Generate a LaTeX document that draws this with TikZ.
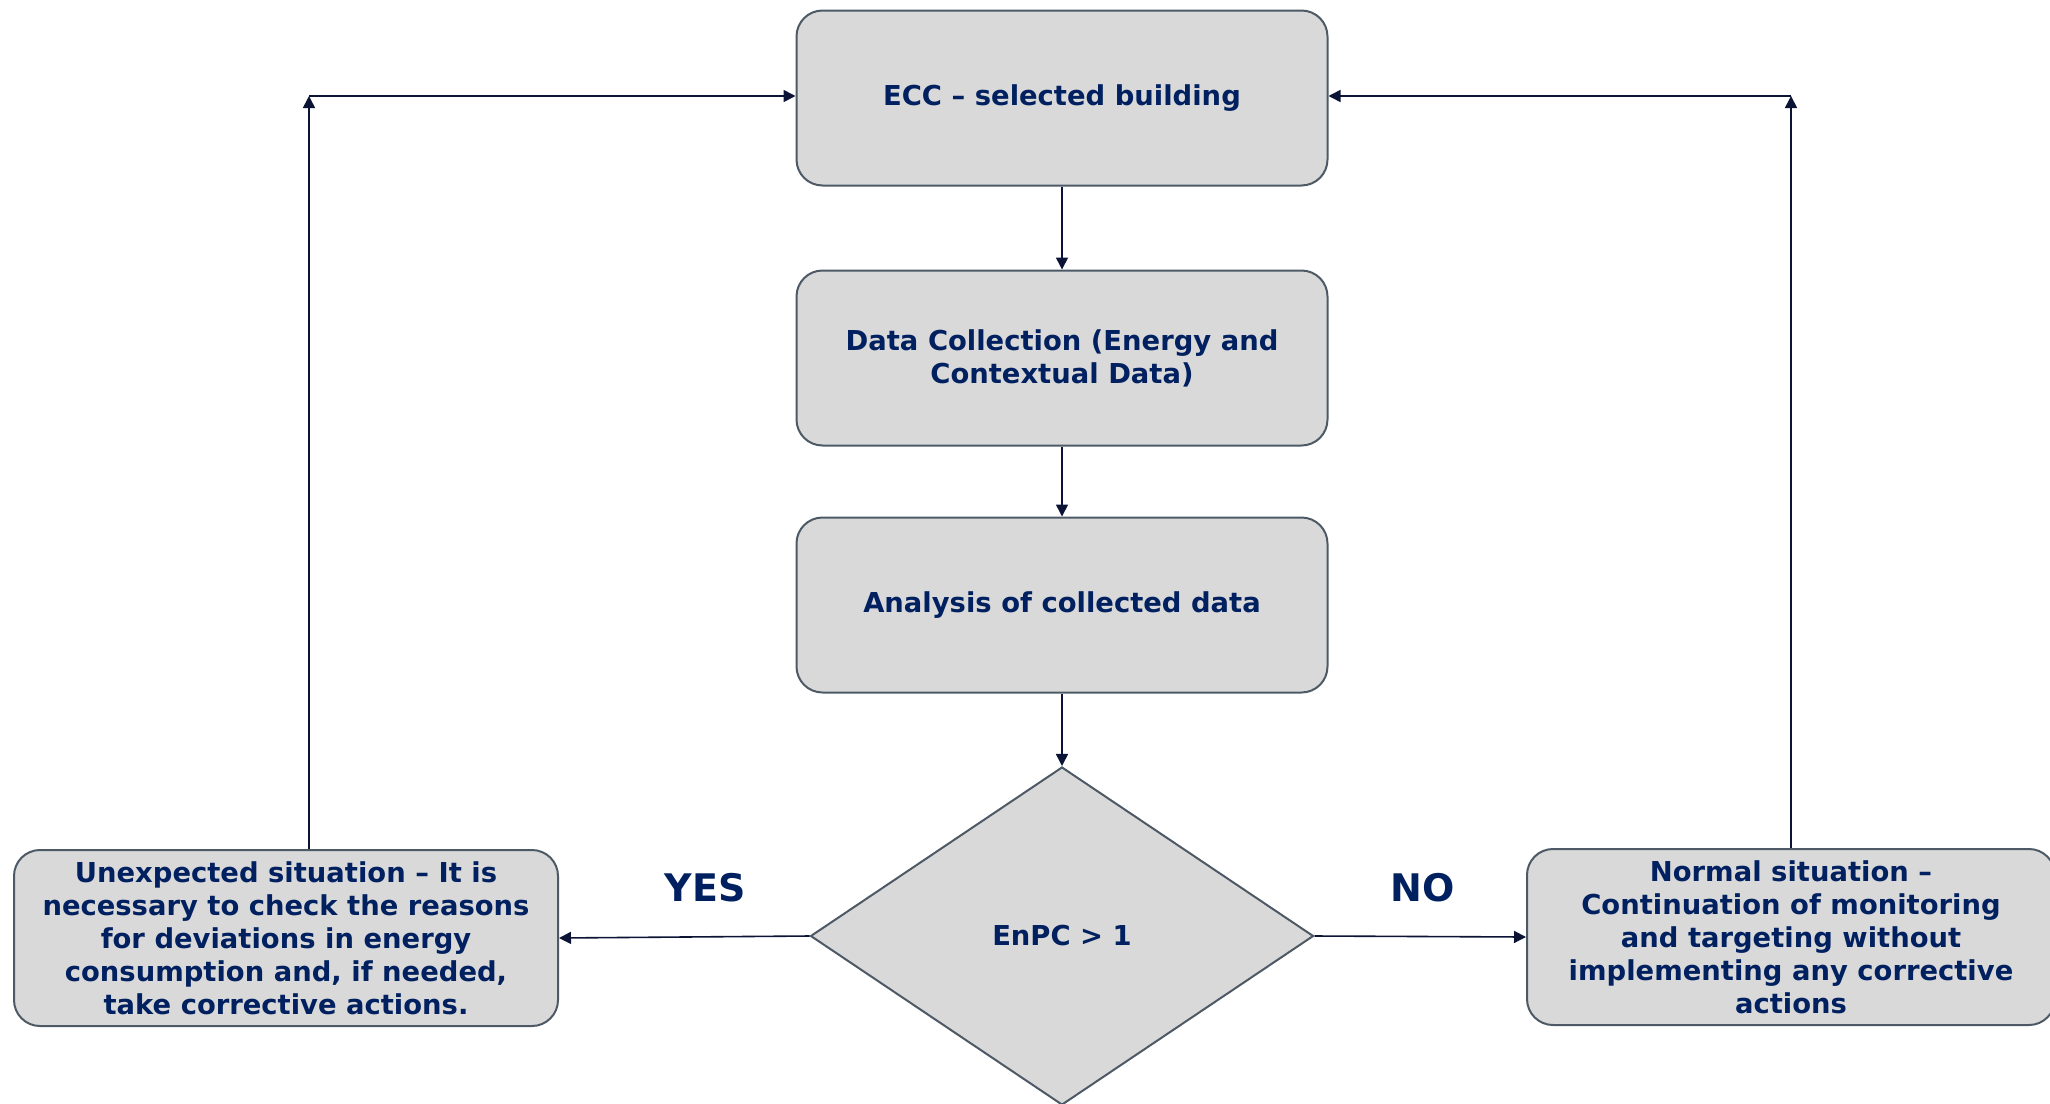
\documentclass[tikz,border=0pt]{standalone}
\usepackage{fontspec}
\setmainfont{DejaVu Sans}
\usetikzlibrary{shapes.geometric,arrows.meta}

\definecolor{boxfill}{HTML}{D9D9D9}
\definecolor{boxline}{HTML}{4D5A66}
\definecolor{textblue}{HTML}{002060}
\definecolor{arrowcol}{HTML}{0B1435}

\tikzset{
  stepbox/.style={draw=boxline, line width=1pt, fill=boxfill, rounded corners=13pt,
    minimum width=265.5pt, minimum height=87.5pt, align=center,
    text=textblue, font=\bfseries\fontsize{13.7}{16.5}\selectfont, inner sep=2pt},
  sidebox/.style={stepbox, minimum height=88pt},
  decision/.style={diamond, draw=boxline, line width=1pt, fill=boxfill,
    minimum width=251.5pt, minimum height=169pt, inner sep=0pt,
    text=textblue, font=\bfseries\fontsize{13.7}{16.5}\selectfont},
  answer/.style={text=textblue, font=\bfseries\fontsize{19}{22}\selectfont},
  flow/.style={draw=arrowcol, line width=0.8pt, -{Triangle[length=6pt,width=6pt]}}
}

\begin{document}
\begin{tikzpicture}[x=0.5pt,y=-0.5pt]
  \useasboundingbox (0,0) rectangle (2050,1103);

  % main chain
  \node[stepbox] (ecc)  at (1062,98)  {ECC – selected building};
  \node[stepbox] (data) at (1062,358) {Data Collection (Energy and\\Contextual Data)};
  \node[stepbox] (ana)  at (1062,605) {Analysis of collected data};
  \node[decision] (dec) at (1062,936) {EnPC > 1};

  % outcomes
  \node[sidebox, minimum width=272pt] (unexp) at (286,938)
    {Unexpected situation – It is\\necessary to check the reasons\\for deviations in energy\\consumption and, if needed,\\take corrective actions.};
  \node[sidebox, minimum width=264pt] (normal) at (1791,937)
    {Normal situation –\\Continuation of monitoring\\and targeting without\\implementing any corrective\\actions};

  \node[answer] (yes) at (705,888) {YES};
  \node[answer] (no)  at (1423,888) {NO};

  % feedback corners
  \coordinate (lt) at (309,96);
  \coordinate (rt) at (1791,96);

  \draw[flow] (ecc) -- (data);
  \draw[flow] (data) -- (ana);
  \draw[flow] (ana) -- (dec);
  \draw[flow] (dec.west) -- (unexp.east);
  \draw[flow] (dec.east) -- (normal.west);

  \draw[flow] (unexp.north -| lt) -- (lt);
  \draw[flow] (lt) -- (ecc.west |- lt);
  \draw[flow] (normal.north -| rt) -- (rt);
  \draw[flow] (rt) -- (ecc.east |- rt);
\end{tikzpicture}
\end{document}
